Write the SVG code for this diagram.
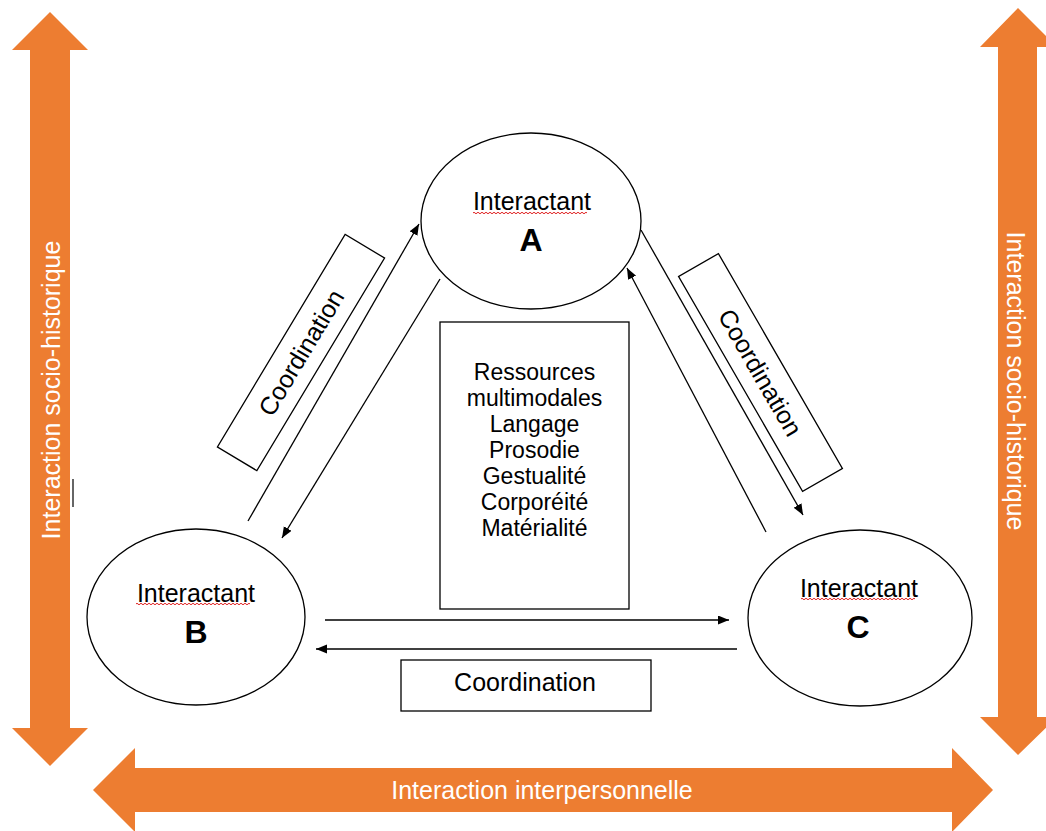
<svg xmlns="http://www.w3.org/2000/svg" xmlns:xlink="http://www.w3.org/1999/xlink" width="1046" height="831" viewBox="0 0 1046 831">
<style>
.orange{fill:#ED7D31;stroke:none}
.wt{fill:#FFFFFF;font-family:"Liberation Sans",Arial,sans-serif;font-size:25px;text-anchor:middle;dominant-baseline:central}
.node{fill:#FFFFFF;stroke:#000000;stroke-width:1.3}
.t{fill:#000000;font-family:"Liberation Sans",Arial,sans-serif;text-anchor:middle}
.lbl{font-size:25px}
.big{font-size:32px;font-weight:bold}
.list{font-size:23px}
.conn{stroke:#000000;stroke-width:1.3;fill:none}
.squig{stroke:#E02020;stroke-width:1;fill:none}
</style>
<defs>
<marker id="ah" markerUnits="userSpaceOnUse" markerWidth="12" markerHeight="10" refX="11" refY="4.5" orient="auto">
<path d="M0,0 L11,4.5 L0,9 z" fill="#000000"/>
</marker>
<path id="wave" d="M0 0 q1 -1.5 2 0 t2 0 t2 0 t2 0 t2 0 t2 0 t2 0 t2 0 t2 0 t2 0 t2 0 t2 0 t2 0 t2 0 t2 0 t2 0 t2 0 t2 0 t2 0 t2 0 t2 0 t2 0 t2 0 t2 0 t2 0 t2 0 t2 0 t2 0 t2 0 t2 0 t2 0 t2 0 t2 0 t2 0 t2 0 t2 0 t2 0 t2 0 t2 0 t2 0 t2 0 t2 0 t2 0 t2 0 t2 0 t2 0 t2 0 t2 0 t2 0 t2 0 t2 0 t2 0 t2 0 t2 0 t2 0 t2 0 t2 0"/>
</defs>
<rect width="1046" height="831" fill="#FFFFFF"/>

<g id="arrow-left">
<polygon class="orange" points="50,12 88,50 70,50 70,728 88,728 50,766 12,728 30,728 30,50 12,50"/>
<text class="wt" transform="translate(51,390) rotate(-90)">Interaction socio-historique</text>
</g>
<g id="arrow-right">
<polygon class="orange" points="1018,8 1057,47 1037,47 1037,717 1057,717 1018,755 980,717 998,717 998,47 980,47"/>
<text class="wt" transform="translate(1016,381) rotate(90)">Interaction socio-historique</text>
</g>
<g id="arrow-bottom">
<polygon class="orange" points="93,790 135,748 135,768 952,768 952,748 993,790 952,832 952,812 135,812 135,832"/>
<text class="wt" x="542" y="790">Interaction interpersonnelle</text>
</g>

<g id="connectors">
<line class="conn" x1="248" y1="521" x2="419" y2="224" marker-end="url(#ah)"/>
<line class="conn" x1="440" y1="279" x2="282" y2="538" marker-end="url(#ah)"/>
<line class="conn" x1="641" y1="230" x2="803" y2="515" marker-end="url(#ah)"/>
<line class="conn" x1="766" y1="532" x2="627" y2="268" marker-end="url(#ah)"/>
<line class="conn" x1="325" y1="620" x2="729" y2="620" marker-end="url(#ah)"/>
<line class="conn" x1="737" y1="649" x2="316" y2="649" marker-end="url(#ah)"/>
</g>

<g id="node-A">
<ellipse class="node" cx="531" cy="221" rx="110" ry="88"/>
<text class="t lbl" x="532" y="210">Interactant</text>
<use href="#wave" xlink:href="#wave" class="squig" transform="translate(473,213)"/>
<text class="t big" x="531" y="251">A</text>
</g>
<g id="node-B">
<ellipse class="node" cx="196" cy="617" rx="109" ry="88"/>
<text class="t lbl" x="196" y="602">Interactant</text>
<use href="#wave" xlink:href="#wave" class="squig" transform="translate(136,604)"/>
<text class="t big" x="196" y="643">B</text>
</g>
<g id="node-C">
<ellipse class="node" cx="860" cy="618" rx="112" ry="88"/>
<text class="t lbl" x="859" y="597">Interactant</text>
<use href="#wave" xlink:href="#wave" class="squig" transform="translate(801,599)"/>
<text class="t big" x="858" y="638">C</text>
</g>

<g id="resources">
<rect class="node" x="440" y="322" width="189" height="287"/>
<text class="t list" x="534.5" y="380">Ressources</text>
<text class="t list" x="534.5" y="406">multimodales</text>
<text class="t list" x="534.5" y="432">Langage</text>
<text class="t list" x="534.5" y="458">Prosodie</text>
<text class="t list" x="534.5" y="484">Gestualité</text>
<text class="t list" x="534.5" y="510">Corporéité</text>
<text class="t list" x="534.5" y="536">Matérialité</text>
</g>

<g id="coord-left" transform="translate(301,352.5) rotate(-59)">
<rect class="node" x="-124" y="-23" width="248" height="46"/>
<text class="t lbl" x="0" y="0" dominant-baseline="central">Coordination</text>
</g>
<g id="coord-right" transform="translate(760.5,372.5) rotate(60)">
<rect class="node" x="-124" y="-23" width="248" height="46"/>
<text class="t lbl" x="0" y="0" dominant-baseline="central">Coordination</text>
</g>
<g id="coord-bottom">
<rect class="node" x="401" y="660" width="250" height="51"/>
<text class="t lbl" x="525" y="691">Coordination</text>
</g>

<line x1="73" y1="479" x2="73" y2="507" stroke="#333333" stroke-width="1.5"/>
</svg>
